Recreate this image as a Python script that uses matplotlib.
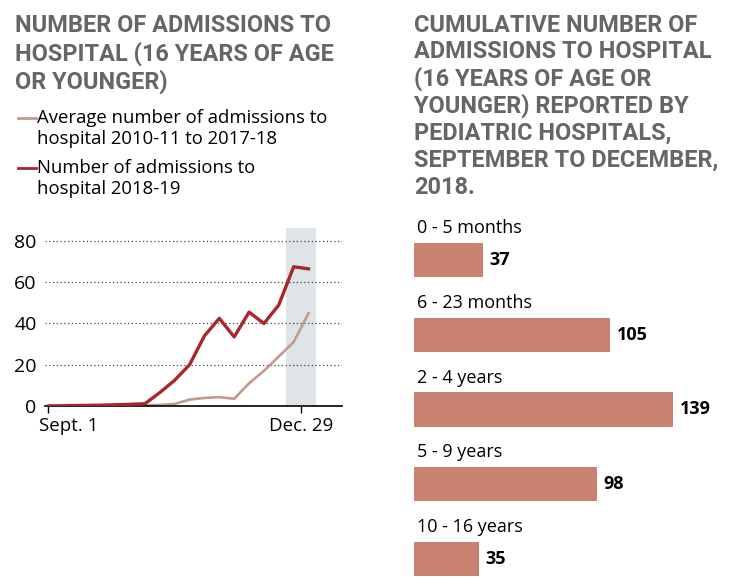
import matplotlib
matplotlib.use("Agg")
import matplotlib.pyplot as plt
import matplotlib.transforms as mtransforms

# Line chart data (weeks since Sept. 1)
week_pos = [0, 1.5, 2.5, 3.5, 4.5, 5.5, 6.5, 7.5, 8.5, 9.5, 10.5, 11.5, 12.5, 13.5, 14.5, 15.5, 16.5, 17.5]
admissions_2018 = [0, 0.2, 0.3, 0.4, 0.6, 0.8, 1.1, 6.5, 12.5, 20, 34, 42.5, 33.5, 45.5, 40, 49, 67.5, 66.5]
admissions_avg = [0, 0, 0, 0, 0, 0.1, 0.3, 0.5, 1.0, 3.1, 3.9, 4.3, 3.5, 11, 17, 24, 31, 45]
x_tick_pos = [0, 17]
x_tick_labels = ["Sept. 1", "Dec. 29"]
y_ticks = [0, 20, 40, 60, 80]
shade_span = [16, 18]

# Bar chart data
age_groups = ["0 - 5 months", "6 - 23 months", "2 - 4 years", "5 - 9 years", "10 - 16 years"]
cumulative = [37, 105, 139, 98, 35]

W, H = 733, 586
RED = "#a8262c"
LIGHT = "#c49a8e"
BAR = "#c98171"
GRAY = "#666666"

fig = plt.figure(figsize=(W / 100, H / 100), dpi=100)
fig.patch.set_facecolor("white")


def px(x, y):
    return x / W, 1 - y / H


def ax_rect(left, top, right, bottom):
    return [left / W, 1 - bottom / H, (right - left) / W, (bottom - top) / H]


title_font = dict(family="Roboto", weight="bold", color=GRAY, fontsize=16.9)
body_font = dict(family="Open Sans", color="black")

# titles
left_title = ["NUMBER OF ADMISSIONS TO", "HOSPITAL (16 YEARS OF AGE", "OR YOUNGER)"]
for i, line in enumerate(left_title):
    fig.text(*px(15, 25 + i * 28.5), line, va="center", ha="left", **title_font)

right_title = ["CUMULATIVE NUMBER OF", "ADMISSIONS TO HOSPITAL", "(16 YEARS OF AGE OR",
               "YOUNGER) REPORTED BY", "PEDIATRIC HOSPITALS,", "SEPTEMBER TO DECEMBER,", "2018."]
for i, line in enumerate(right_title):
    fig.text(*px(414, 25 + i * 27), line, va="center", ha="left", **title_font)

# legend
leg = [(LIGHT, ["Average number of admissions to", "hospital 2010-11 to 2017-18"], 118),
       (RED, ["Number of admissions to", "hospital 2018-19"], 168)]
for color, lines, y0 in leg:
    fig.add_artist(plt.Line2D([18 / W, 36 / W], [1 - y0 / H] * 2, color=color, lw=2))
    for j, t in enumerate(lines):
        fig.text(*px(37, y0 + j * 21.5), t, va="center", ha="left", fontsize=13.3, **body_font)

# line chart
ax = fig.add_axes(ax_rect(45, 228, 342, 406))
ax.axvspan(shade_span[0], shade_span[1], color="#dfe4e8", lw=0, zorder=0)
ax.plot(week_pos, admissions_avg, color=LIGHT, lw=1.9, zorder=2, solid_joinstyle="round")
ax.plot(week_pos, admissions_2018, color=RED, lw=2.4, zorder=3, solid_joinstyle="round")
ax.set_xlim(-0.22, 19.75)
ax.set_ylim(0, 86.3)
for v in y_ticks[1:]:
    ax.axhline(v, color="#444444", lw=0.9, ls=(0, (1, 2)), zorder=1)
for s in ["top", "right", "left"]:
    ax.spines[s].set_visible(False)
ax.spines["bottom"].set_linewidth(1.2)
ax.set_yticks(y_ticks)
ax.set_yticklabels([str(v) for v in y_ticks], fontsize=14, family="Open Sans")
ax.tick_params(axis="y", length=0, pad=6)
ax.set_xticks(x_tick_pos)
ax.set_xticklabels(x_tick_labels, fontsize=13.5, family="Open Sans")
ax.tick_params(axis="x", length=5, width=1, pad=3)
first = ax.get_xticklabels()[0]
first.set_ha("left")
first.set_transform(first.get_transform() + mtransforms.ScaledTranslation(-0.09, 0, fig.dpi_scale_trans))
ax.set_facecolor("none")

# bar chart
bx = fig.add_axes(ax_rect(414, 243, 694, 576))
bar_h = 0.455
ypos = list(range(len(age_groups)))
bx.barh(ypos, cumulative, height=bar_h, color=BAR, lw=0)
bx.set_xlim(0, 150)
bx.set_ylim(len(age_groups) - 1 + bar_h / 2, -bar_h / 2)
bx.axis("off")
for y, label, val in zip(ypos, age_groups, cumulative):
    bx.text(1.5, y - bar_h / 2 - 0.2, label, va="center", ha="left", fontsize=13, clip_on=False, **body_font)
    bx.text(val + 3.5, y, str(val), va="center", ha="left", fontsize=13, weight="bold",
            family="Open Sans", color="black", clip_on=False)

fig.savefig("out.png", dpi=100, facecolor="white")
